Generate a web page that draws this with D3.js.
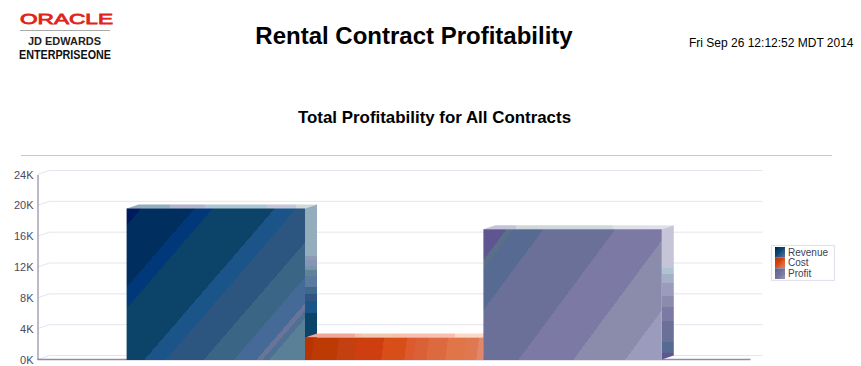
<!DOCTYPE html>
<html>

<head>
  <title>Rental Contract Profitability</title>
  <meta charset="utf-8"/>
  <script src="https://d3js.org/d3.v7.min.js"></script>

  <style>
    body { margin: 0; background: #fff; }
    svg { display: block; }
    text { font-family: "Liberation Sans", Arial, sans-serif; }
    .grid line { stroke: #e6e4ee; stroke-width: 1; }
    .axis text { font-size: 11px; fill: #4a4a5e; }
    .axis .domain { stroke: #8f8ba3; stroke-width: 1.2; }
  </style>
</head>

<body>
  <script>
    var series = ["Revenue", "Cost", "Profit"];
    var values = [19600, 2850, 16900];
    var tickValues = [0, 4000, 8000, 12000, 16000, 20000, 24000];

    // colour bands of each face: front is diagonal, top runs left to right, side runs downward
    var frontColors = {
      Revenue: ["#001a5e", "#002f5f", "#00387a", "#0b4468", "#1a5488", "#2c5580", "#3a6585", "#456a98", "#6a7498", "#4f7095", "#5a8098"],
      Cost: ["#b93300", "#bd3a05", "#c54010", "#cf3e10", "#d74e18", "#dc5a2e", "#da6035", "#dc6a3e", "#e07648", "#df7850", "#e0866a"],
      Profit: ["#5f5590", "#5a7088", "#566a92", "#6a7098", "#7c7aa5", "#8b8cab", "#9a9bbd"]
    };
    var frontBreaks = {
      Revenue: [17, 79, 100, 172, 197, 241, 276, 302, 309, 317],
      Cost: [72, 272, 416, 632, 816, 888, 992, 1144, 1288, 1392],
      Profit: [31, 40, 81, 178, 252, 322]
    };
    var frontSlope = { Revenue: 1.16, Cost: 8, Profit: 1.35 };

    var topColors = {
      Revenue: ["#94adbd", "#b4b3cc", "#aec6d2", "#c6c5d8", "#d0d8d8"],
      Cost: ["#f2a898", "#f0c0a8", "#f0c8b0", "#f8bfb0", "#fcd8c8"],
      Profit: ["#c4c3da", "#cfd8d8", "#dfdfea", "#e0e0ec"]
    };
    var topBreaks = {
      Revenue: [0.23, 0.41, 0.74, 0.89],
      Cost: [0.26, 0.30, 0.46, 0.79],
      Profit: [0.17, 0.68, 0.84]
    };

    var sideColors = {
      Revenue: ["#94adbd", "#8d9ab5", "#8796b6", "#7a95ab", "#5f8498", "#5b7aa0", "#40688c", "#2f5580", "#1a5488", "#0b4468", "#00387a"],
      Cost: ["#e0866a"],
      Profit: ["#c6c5d8", "#aec4d4", "#a5b0c6", "#9a9bbd", "#8b8cab", "#7c7aa5", "#6a7098", "#566a92", "#5f5590"]
    };
    var sideBreaks = {
      Revenue: [0.33, 0.36, 0.40, 0.42, 0.46, 0.53, 0.58, 0.62, 0.70, 0.85],
      Cost: [],
      Profit: [0.32, 0.36, 0.43, 0.53, 0.61, 0.71, 0.87, 0.95]
    };

    var width = 861, height = 366;
    var depthX = 12, depthY = 4;

    var svg = d3.select("body").append("svg").attr("width", width).attr("height", height);
    var defs = svg.append("defs");

    // hard edged gradient, one flat band per colour
    function bandGradient(id, colors, breaks, coords) {
      var g = defs.append("linearGradient").attr("id", id);
      Object.keys(coords).forEach(function(k) { g.attr(k, coords[k]); });
      colors.forEach(function(c, i) {
        var from = i == 0 ? 0 : breaks[i - 1];
        var to = i == colors.length - 1 ? 1 : breaks[i];
        g.append("stop").attr("offset", from).attr("stop-color", c);
        g.append("stop").attr("offset", to).attr("stop-color", c);
      });
    }

    // header
    svg.append("text").attr("x", 20).attr("y", 24)
      .attr("textLength", 93).attr("lengthAdjust", "spacingAndGlyphs")
      .style("font-size", "15px").style("fill", "#e2231a")
      .style("stroke", "#e2231a").style("stroke-width", 0.8)
      .text("ORACLE");
    svg.append("line").attr("x1", 20).attr("x2", 110).attr("y1", 30.5).attr("y2", 30.5)
      .style("stroke", "#aaa");
    svg.append("text").attr("x", 28).attr("y", 45)
      .attr("textLength", 73).attr("lengthAdjust", "spacingAndGlyphs")
      .style("font-size", "10.5px").style("font-weight", "bold").style("fill", "#222")
      .text("JD EDWARDS");
    svg.append("text").attr("x", 19).attr("y", 59)
      .attr("textLength", 92).attr("lengthAdjust", "spacingAndGlyphs")
      .style("font-size", "12px").style("font-weight", "bold").style("fill", "#111")
      .text("ENTERPRISEONE");

    svg.append("text").attr("x", 414).attr("y", 44).attr("text-anchor", "middle")
      .style("font-size", "24px").style("font-weight", "bold").style("fill", "#000")
      .text("Rental Contract Profitability");
    svg.append("text").attr("x", 689).attr("y", 47)
      .style("font-size", "12px").style("fill", "#000")
      .text("Fri Sep 26 12:12:52 MDT 2014");
    svg.append("text").attr("x", 434.5).attr("y", 123).attr("text-anchor", "middle")
      .style("font-size", "16.9px").style("font-weight", "bold").style("fill", "#000")
      .text("Total Profitability for All Contracts");
    svg.append("line").attr("x1", 21).attr("x2", 832).attr("y1", 155.5).attr("y2", 155.5)
      .style("stroke", "#c8c6d2").style("stroke-width", 1.2);

    // scales
    var x = d3.scaleBand().domain(series).range([126.6, 661.8]);
    var y = d3.scaleLinear().domain([0, 24000]).range([359.5, 174.5]);
    var axisLeftX = 37.5, axisRightX = 750.5;

    // back wall grid
    var grid = svg.append("g").attr("class", "grid");
    grid.selectAll("line.h").data(tickValues).enter().append("line").attr("class", "h")
      .attr("x1", axisLeftX + depthX).attr("x2", axisRightX + depthX)
      .attr("y1", function(d) { return y(d) - depthY; })
      .attr("y2", function(d) { return y(d) - depthY; });
    grid.selectAll("line.d").data(tickValues).enter().append("line").attr("class", "d")
      .attr("x1", axisLeftX).attr("x2", axisLeftX + depthX)
      .attr("y1", function(d) { return y(d); })
      .attr("y2", function(d) { return y(d) - depthY; });

    // floor line
    svg.append("line").attr("x1", axisLeftX).attr("x2", axisRightX)
      .attr("y1", y(0)).attr("y2", y(0))
      .style("stroke", "#8f8ba3").style("stroke-width", 1.5);

    // axis
    var axis = d3.axisLeft(y).tickValues(tickValues).tickSize(0).tickPadding(4)
      .tickFormat(function(d) { return (d / 1000) + "K"; });
    svg.append("g").attr("class", "axis")
      .attr("transform", "translate(" + axisLeftX + ",0)")
      .call(axis);

    // bars, left to right so each one covers the side of the last
    series.forEach(function(name, i) {
      var x0 = x(name), w = x.bandwidth(), y0 = y(values[i]), h = y(0) - y0;
      var s = frontSlope[name];

      var breaks = frontBreaks[name];
      var tMax = s * w + h;
      bandGradient("front" + i, frontColors[name],
        breaks.map(function(b) { return b / tMax; }),
        {
          gradientUnits: "userSpaceOnUse",
          x1: x0, y1: y0,
          x2: x0 + s * tMax / (s * s + 1),
          y2: y0 + tMax / (s * s + 1)
        });
      bandGradient("top" + i, topColors[name], topBreaks[name], { x1: 0, y1: 0, x2: 1, y2: 0 });
      bandGradient("side" + i, sideColors[name], sideBreaks[name], { x1: 0, y1: 0, x2: 0, y2: 1 });

      // same front bands, squeezed into the legend swatch
      bandGradient("swatch" + i, frontColors[name],
        breaks.map(function(b) { return b / breaks[breaks.length - 1] * 0.94; }),
        { x1: 0, y1: 0, x2: 1, y2: 1 });

      svg.append("path")
        .attr("d", d3.line()([[x0, y0], [x0 + depthX, y0 - depthY], [x0 + w + depthX, y0 - depthY], [x0 + w, y0]]) + "Z")
        .style("fill", "url(#top" + i + ")");
      svg.append("path")
        .attr("d", d3.line()([[x0 + w, y0], [x0 + w + depthX, y0 - depthY], [x0 + w + depthX, y(0) - depthY], [x0 + w, y(0)]]) + "Z")
        .style("fill", "url(#side" + i + ")");
      svg.append("rect")
        .attr("x", x0).attr("y", y0).attr("width", w).attr("height", h + 0.5)
        .style("fill", "url(#front" + i + ")");
    });

    // legend
    var legendX = 771.5, legendY = 245.5;
    svg.append("rect").attr("x", legendX).attr("y", legendY).attr("width", 63).attr("height", 35)
      .style("fill", "#fff").style("stroke", "#e3e1ec").style("stroke-width", 1.2);
    var legendRow = d3.scaleBand().domain(series).range([legendY + 1.5, legendY + 33.5]);
    series.forEach(function(name, i) {
      svg.append("rect")
        .attr("x", legendX + 3.5).attr("y", legendRow(name))
        .attr("width", 10).attr("height", legendRow.bandwidth())
        .style("fill", "url(#swatch" + i + ")");
      svg.append("text")
        .attr("x", legendX + 16.5).attr("y", legendRow(name) + 8.5)
        .style("font-size", "10px").style("fill", "#3d4058")
        .text(name);
    });
  </script>
</body>

</html>
